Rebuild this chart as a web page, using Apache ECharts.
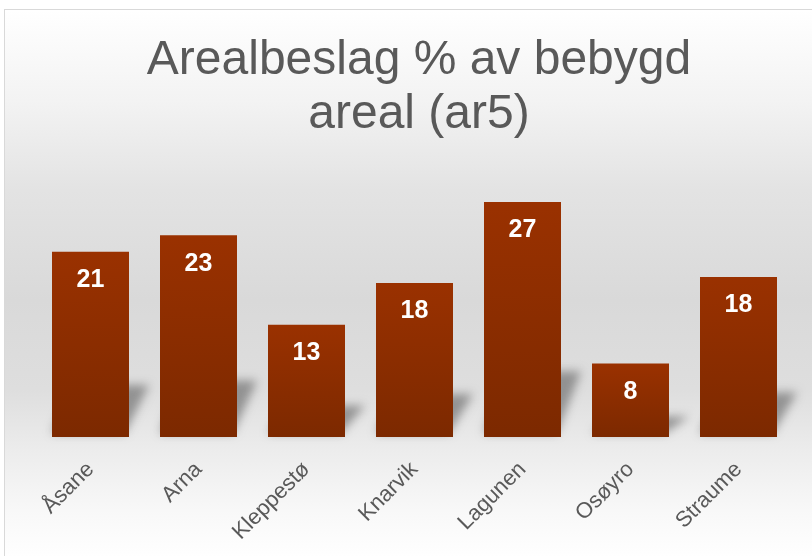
<!DOCTYPE html>
<html>
<head>
<meta charset="utf-8">
<script src="https://cdn.jsdelivr.net/npm/echarts@6/dist/echarts.min.js"></script>
<style>
  html, body { margin: 0; padding: 0; background: #fff; }
  #frame {
    position: absolute; left: 4px; top: 9px; width: 840px; height: 580px;
    border: 1px solid #d9d9d9;
    background: linear-gradient(to bottom, #ffffff 0px, #f3f3f3 90px, #e3e3e3 180px,
      #d9d9d9 290px, #dedede 380px, #ececec 440px, #f8f8f8 500px, #ffffff 550px);
  }
  #chart { position: absolute; left: 0; top: 0; width: 812px; height: 556px; }
</style>
</head>
<body>
<div id="frame"></div>
<div id="chart"></div>
<script>
var places = ["Åsane", "Arna", "Kleppestø", "Knarvik", "Lagunen", "Osøyro", "Straume"];
var shares = [21.3, 23.2, 12.9, 17.7, 27.0, 8.45, 18.4];

var chart = echarts.init(document.getElementById("chart"));
var option = {
    backgroundColor: "transparent",
    animation: false,
    title: {
        text: "Arealbeslag % av bebygd\nareal (ar5)",
        left: 414,
        top: 29,
        textAlign: "center",
        textStyle: {
            fontFamily: "Liberation Sans",
            fontSize: 48,
            lineHeight: 54,
            fontWeight: "normal",
            color: "#595959"
        }
    },
    grid: { left: 36.5, right: 19.5, top: 176, bottom: 119 },
    xAxis: {
        type: "category",
        data: places,
        axisLine: { show: false },
        axisTick: { show: false },
        axisLabel: {
            rotate: 45,
            margin: 29,
            fontFamily: "Liberation Sans",
            fontSize: 22,
            color: "#595959"
        }
    },
    yAxis: {
        type: "value",
        min: 0,
        max: 30,
        show: false,
        splitLine: { show: false }
    },
    series: [{
        // soft floor shadow behind each bar: the shape sits off to the left,
        // only its blurred canvas shadow is shifted back into place
        type: "custom",
        z: 1,
        silent: true,
        data: shares,
        renderItem: function(params, api) {
            var base = api.coord([api.value(0), 0]);
            var top = api.coord([api.value(0), api.value(1)]);
            var w = api.size([1, 0])[0] * 77 / 108;
            var x0 = base[0] - w / 2, x1 = base[0] + w / 2, y0 = base[1];
            var sh = (y0 - top[1]) * 0.28;
            var sx = 20;
            var shift = 1200;
            return {
                type: "polygon",
                shape: { points: [
                    [x0 - shift, y0 - 4], [x1 - shift - 4, y0 - 4],
                    [x1 - shift + sx, y0 - sh], [x0 - shift + sx, y0 - sh]
                ] },
                style: {
                    fill: "#888",
                    shadowBlur: 10,
                    shadowOffsetX: shift,
                    shadowColor: "rgba(120,120,120,0.75)"
                }
            };
        },
        encode: { x: 0, y: 1 }
    }, {
        type: "bar",
        z: 3,
        data: shares,
        barWidth: 77,
        itemStyle: {
            color: new echarts.graphic.LinearGradient(0, 0, 0, 1, [
                { offset: 0, color: "#9a3100" },
                { offset: 1, color: "#7c2900" }
            ])
        },
        label: {
            show: true,
            position: "insideTop",
            distance: 16,
            fontFamily: "Liberation Sans",
            fontSize: 25,
            fontWeight: "bold",
            color: "#ffffff",
            formatter: function(p) {
                return Math.round(p.value);
            }
        }
    }]
};
chart.setOption(option);
</script>
</body>
</html>
